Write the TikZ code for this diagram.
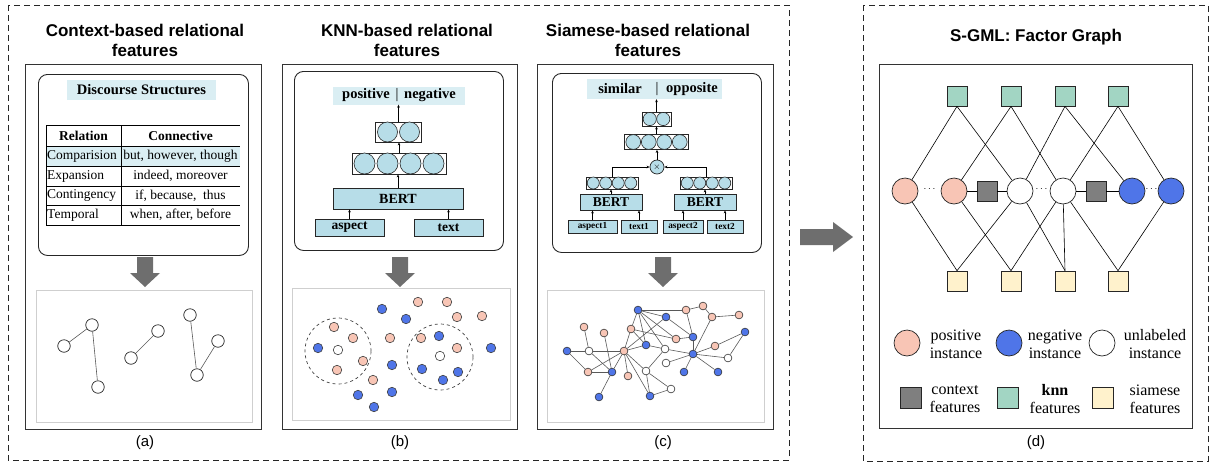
\documentclass[tikz,border=0pt]{standalone}
\usepackage{fontspec}
\setmainfont{Liberation Serif}
\newfontfamily\arialf{Liberation Sans}
\usetikzlibrary{arrows.meta}
\definecolor{pinkc}{HTML}{F8C5B5}
\definecolor{bluec}{HTML}{4F75E8}
\definecolor{tealc}{HTML}{A2D5C3}
\definecolor{creamc}{HTML}{FFF2CC}
\definecolor{darkc}{HTML}{7F7F7F}
\definecolor{lblue}{HTML}{B7DDE8}
\definecolor{hlblue}{HTML}{DAEEF3}
\definecolor{arrowgray}{HTML}{6E6E6E}
\definecolor{framegray}{HTML}{CFCFCF}
\newcommand{\nnlayer}[7]{%
  \node[layerbox, minimum width={#3*#4+2}, minimum height=#6] (#7) at (#1,#2) {};
  \foreach \k in {1,...,#3}{\draw[neuron] ({#1+(\k-(#3+1)/2)*#4},#2) circle[radius=#5];}
}
\begin{document}
\begin{tikzpicture}[x=1pt,y=-1pt,
  title/.style={font=\arialf\bfseries\fontsize{17}{20}\selectfont, align=center},
  capt/.style={font=\arialf\fontsize{15}{17}\selectfont},
  outerdash/.style={draw=black!85, line width=0.8pt, dash pattern=on 6pt off 4pt},
  panelbox/.style={draw=black!80, line width=0.9pt, anchor=north west, inner sep=0},
  rbox/.style={draw=black!85, line width=0.9pt, rounded corners=9pt, anchor=north west, inner sep=0},
  graybox/.style={draw=framegray, line width=1pt, anchor=north west, inner sep=0},
  hl/.style={fill=hlblue, inner sep=0},
  layerbox/.style={draw=black!85, line width=0.8pt, fill=white, inner sep=0},
  neuron/.style={draw=black!85, line width=0.6pt, fill=lblue},
  nnbox/.style={draw=black!85, line width=0.8pt, fill=lblue, inner sep=0},
  nnarrow/.style={-{Stealth[length=3pt,width=2.6pt]}, line width=0.5pt, black},
  tcell/.style={font=\fontsize{13.5}{16}\selectfont, inner sep=0},
  gnode/.style={circle, draw=black!85, line width=0.7pt, fill=white, minimum size=12.5pt, inner sep=0},
  kdot/.style={circle, draw=black!75, line width=0.6pt, minimum size=9.5pt, inner sep=0},
  sdot/.style={circle, draw=black!80, line width=0.6pt, minimum size=7.8pt, inner sep=0},
  pk/.style={fill=pinkc}, bl/.style={fill=bluec}, wh/.style={fill=white},
  sedge/.style={draw=black!65, line width=0.6pt},
  fcirc/.style={circle, draw=black!85, line width=0.7pt, minimum size=26pt, inner sep=0},
  fsq/.style={draw=black!85, line width=0.7pt, minimum size=20pt, inner sep=0},
  fedge/.style={draw=black, line width=0.6pt},
  legtext/.style={font=\fontsize{16}{18}\selectfont, align=center, inner sep=0},
  garrow/.pic={\fill[arrowgray] (-8,0) -- (8,0) -- (8,16) -- (15,16) -- (0,30) -- (-15,16) -- (-8,16) -- cycle;}
]
\useasboundingbox (0,0) rectangle (1211,464);

% ---------------- outer dashed frames
\draw[outerdash] (8,5) rectangle (789,460);
\draw[outerdash] (863,5) rectangle (1208,461);

% ================= panel (a)
\node[title] (ta) at (145,40) {Context-based relational\\features};
\node[panelbox, minimum width=236, minimum height=365] (pa) at (25,64) {};
\node[rbox, minimum width=210, minimum height=181] (ra) at (38,74) {};
\node[hl, minimum width=149, minimum height=20, font=\bfseries\fontsize{14.5}{16}\selectfont] (ds) at (141.5,90) {Discourse Structures};
\fill[hlblue] (46,146) rectangle (240,166);
\foreach \yy in {125,146,166,186,205,225}{\draw[line width=0.8pt] (46,\yy) -- (240,\yy);}
\draw[line width=0.8pt] (46,125) -- (46,225);
\draw[line width=0.8pt] (121,125) -- (121,225);
\node[tcell, font=\bfseries\fontsize{13.5}{16}\selectfont] (h1) at (83.5,136) {Relation};
\node[tcell, font=\bfseries\fontsize{13.5}{16}\selectfont] (h2) at (180.5,136) {Connective};
\node[tcell, anchor=west] (r1a) at (47,156) {Comparision};
\node[tcell] (r1b) at (180.5,156) {but, however, though};
\node[tcell, anchor=west] (r2a) at (47,176) {Expansion};
\node[tcell] (r2b) at (180.5,176) {indeed, moreover};
\node[tcell, anchor=west] (r3a) at (47,195.5) {Contingency};
\node[tcell] (r3b) at (180.5,195.5) {if, because,\ \ thus};
\node[tcell, anchor=west] (r4a) at (47,215) {Temporal};
\node[tcell] (r4b) at (180.5,215) {when, after, before};
\pic at (145,257) {garrow};
\node[graybox, minimum width=216, minimum height=132] (ga) at (36,290) {};
\node[gnode] (a1) at (64,346) {};
\node[gnode] (a2) at (92,325) {};
\node[gnode] (a3) at (98,387) {};
\node[gnode] (a4) at (131,358) {};
\node[gnode] (a5) at (158,331) {};
\node[gnode] (a6) at (190,315) {};
\node[gnode] (a7) at (218,341) {};
\node[gnode] (a8) at (197,375) {};
\draw[sedge] (a1) -- (a2); \draw[sedge] (a2) -- (a3);
\draw[sedge] (a4) -- (a5);
\draw[sedge] (a6) -- (a8); \draw[sedge] (a8) -- (a7);
\node[capt] (ca) at (145,443) {(a)};

% ================= panel (b)
\node[title] (tb) at (407,40) {KNN-based relational\\features};
\node[panelbox, minimum width=235, minimum height=365] (pb) at (282,64) {};
\node[rbox, minimum width=209, minimum height=179] (rb) at (294,71) {};
\node[hl, minimum width=132, minimum height=18] (hb) at (399,95.5) {};
\node[font=\bfseries\fontsize{14.5}{16}\selectfont, inner sep=0] (hbp) at (366,95.5) {positive};
\node[font=\fontsize{14.5}{16}\selectfont, inner sep=0] (hbb) at (397,95.5) {|};
\node[font=\bfseries\fontsize{14.5}{16}\selectfont, inner sep=0] (hbn) at (430,95.5) {negative};
\nnlayer{398.5}{132}{2}{22}{10}{20}{lb2}
\nnlayer{399}{163.5}{4}{23}{10.5}{21}{lb4}
\node[nnbox, minimum width=130, minimum height=21, font=\bfseries\fontsize{14}{16}\selectfont] (bertb) at (398,198.5) {BERT};
\node[nnbox, minimum width=69, minimum height=17, font=\bfseries\fontsize{13.5}{15}\selectfont] (aspb) at (349.5,227.5) {aspect};
\node[nnbox, minimum width=69, minimum height=17, font=\bfseries\fontsize{13.5}{15}\selectfont] (txtb) at (448.5,227.5) {text};
\draw[nnarrow] (aspb.north) -- (aspb.north |- bertb.south);
\draw[nnarrow] (txtb.north) -- (txtb.north |- bertb.south);
\draw[nnarrow] (bertb.north) -- (bertb.north |- lb4.south);
\draw[nnarrow] (lb4.north) -- (lb4.north |- lb2.south);
\draw[nnarrow] (lb2.north) -- (lb2.north |- hb.south);
\pic at (400,257) {garrow};
\node[graybox, minimum width=218, minimum height=132] (gb) at (292,288) {};
\node[circle, draw=black!75, dashed, line width=0.7pt, minimum size=66pt, inner sep=0] (dc1) at (338,351) {};
\node[circle, draw=black!75, dashed, line width=0.7pt, minimum size=66pt, inner sep=0] (dc2) at (440,357) {};
\foreach \px/\py/\st [count=\i] in {382/309/bl, 418/302/pk, 447/302/pk, 406/319/bl, 457/317/pk, 482/316/pk,
  334/327/pk, 353/338/pk, 390/338/pk, 421/338/pk, 439/336/bl, 318/348/bl, 338/350/wh, 457/348/pk, 491/348/bl,
  440/356/wh, 363/361/pk, 392/365/bl, 422/369/bl, 337/370/pk, 458/372/bl, 443/380/bl, 373/380/pk, 358/395/bl,
  392/392/bl, 374/407/bl}
  {\node[kdot, \st] (kd\i) at (\px,\py) {};}
\node[capt] (cb) at (400,443) {(b)};

% ================= panel (c)
\node[title] (tc) at (648,40) {Siamese-based relational\\features};
\node[panelbox, minimum width=236, minimum height=365] (pc) at (537,64) {};
\node[rbox, minimum width=209, minimum height=179] (rc) at (552,73) {};
\node[hl, minimum width=135, minimum height=20] (hc) at (654.5,89) {};
\node[font=\bfseries\fontsize{14.5}{16}\selectfont, inner sep=0] (hcs) at (620,89) {similar};
\node[font=\fontsize{14.5}{16}\selectfont, inner sep=0] (hcb) at (657,89) {|};
\node[font=\bfseries\fontsize{14.5}{16}\selectfont, inner sep=0] (hco) at (692,89) {opposite};
\nnlayer{656.5}{119}{2}{13.5}{6.6}{14}{lc2}
\nnlayer{656.5}{142}{4}{15.5}{7.4}{15}{lc4}
\node[circle, draw=black!85, line width=0.7pt, fill=lblue, minimum size=14pt, inner sep=0, font=\fontsize{9}{9}\selectfont] (ox) at (657,167) {$\times$};
\nnlayer{612}{183}{4}{12.5}{6}{12}{encl}
\nnlayer{706}{183}{4}{12.5}{6}{12}{encr}
\node[nnbox, minimum width=62, minimum height=16, font=\bfseries\fontsize{13.5}{15}\selectfont] (bertl) at (611,202) {BERT};
\node[nnbox, minimum width=62, minimum height=16, font=\bfseries\fontsize{13.5}{15}\selectfont] (bertr) at (705,202) {BERT};
\node[nnbox, minimum width=49, minimum height=13, font=\bfseries\fontsize{9.3}{10}\selectfont] (asp1) at (592.5,226.5) {aspect1};
\node[nnbox, minimum width=36, minimum height=13, font=\bfseries\fontsize{9.3}{10}\selectfont] (txt1) at (639,226.5) {text1};
\node[nnbox, minimum width=40, minimum height=13, font=\bfseries\fontsize{9.3}{10}\selectfont] (asp2) at (683,226.5) {aspect2};
\node[nnbox, minimum width=36, minimum height=13, font=\bfseries\fontsize{9.3}{10}\selectfont] (txt2) at (725,226.5) {text2};
\draw[nnarrow] (asp1.north) -- (asp1.north |- bertl.south);
\draw[nnarrow] (txt1.north) -- (txt1.north |- bertl.south);
\draw[nnarrow] (asp2.north) -- (asp2.north |- bertr.south);
\draw[nnarrow] (txt2.north) -- (txt2.north |- bertr.south);
\draw[nnarrow] (bertl.north) -- (bertl.north |- encl.south);
\draw[nnarrow] (bertr.north) -- (bertr.north |- encr.south);
\draw[nnarrow] (encl.north) |- (ox.west);
\draw[nnarrow] (encr.north) |- (ox.east);
\draw[nnarrow] (ox.north) -- (ox.north |- lc4.south);
\draw[nnarrow] (lc4.north) -- (lc4.north |- lc2.south);
\draw[nnarrow] (lc2.north) -- (lc2.north |- hc.south);
\pic at (663,257) {garrow};
\node[graybox, minimum width=217, minimum height=132] (gc) at (547,290) {};
\foreach \nm/\px/\py/\st in {B1/638/310/bl, B2/666/317/bl, P1/686/310/pk, P2/703/306/pk, P3/712/317/pk, P4/739/315/pk,
  P5/584/327/pk, P6/604/333/pk, P7/631/329/pk, P8/676/339/pk, B3/693/337/bl, B4/745/332/bl, B5/567/351/bl,
  W1/589/351/wh, P9/624/351/pk, B6/646/345/bl, W2/665/349/wh, P10/715/346/pk, B7/693/354/bl, W3/666/363/wh,
  W4/728/358/wh, P11/588/372/pk, B8/612/372/bl, P12/628/376/pk, W5/646/371/wh, B9/684/372/bl, B10/718/372/bl,
  W6/671/389/wh, B11/599/397/bl, B12/650/396/bl}
  {\node[sdot, \st] (c\nm) at (\px,\py) {};}
\foreach \u/\v in {B5/W1, W1/P9, B5/P11, P5/W1, W1/B8, P11/B8, P11/P9, P6/B8, B8/P9, B8/B11, P9/P7, P9/B2,
  P9/B6, P9/W5, P9/B12, P9/P12, P7/B6, P7/P8, B1/P7, B1/B6, B1/W2, B1/P8, B1/B2, B1/P1, P1/P2, P2/P3, P3/P4,
  P1/B3, P3/B7, B2/B3, B6/W2, W2/B7, B3/B7, B7/P10, P10/B4, B4/W4, W4/B7, B7/B9, B7/B10, B7/W3, W2/W5,
  W5/B12, W5/W6, W6/B12, P8/B3}
  {\draw[sedge] (c\u) -- (c\v);}
\node[capt] (cc) at (663,443) {(c)};

% ---------------- big arrow to (d)
\fill[arrowgray] (800,229) -- (833,229) -- (833,222) -- (853,237) -- (833,252) -- (833,245) -- (800,245) -- cycle;

% ================= panel (d)
\node[title] (td) at (1036,37) {S-GML: Factor Graph};
\node[panelbox, minimum width=313, minimum height=364] (pd) at (879,64) {};
\foreach \nm/\px in {1/957, 2/1011, 3/1065, 4/1118}{
  \node[fsq, fill=tealc] (K\nm) at (\px,96) {};
  \node[fsq, fill=creamc] (S\nm) at (\px,281) {};
}
\node[fcirc, fill=pinkc] (FP1) at (905,191) {};
\node[fcirc, fill=pinkc] (FP2) at (954,191) {};
\node[fcirc, fill=white] (FW1) at (1020,191) {};
\node[fcirc, fill=white] (FW2) at (1063,191) {};
\node[fcirc, fill=bluec] (FN1) at (1132,191) {};
\node[fcirc, fill=bluec] (FN2) at (1171,191) {};
\node[fsq, fill=darkc] (C1) at (987,191) {};
\node[fsq, fill=darkc] (C2) at (1096,191) {};
\node[inner sep=0] (d1) at (929.5,189) {$\cdots$};
\node[inner sep=0] (d2) at (1041.5,189) {$\cdots$};
\node[inner sep=0] (d3) at (1151.5,189) {$\cdots$};
\foreach \u/\v in {K1/FP1, K1/FW1, K2/FP2, K2/FW2, K3/FW1, K3/FN1, K4/FW2, K4/FN2}
  {\draw[fedge] (\u.south) -- (\v);}
\foreach \u/\v in {S1/FP1, S1/FW1, S2/FP2, S2/FW2, S3/FW1, S3/FW2, S4/FW2, S4/FN2}
  {\draw[fedge] (\u.north) -- (\v);}
\draw[fedge] (FP2) -- (C1); \draw[fedge] (C1) -- (FW1);
\draw[fedge] (FW2) -- (C2); \draw[fedge] (C2) -- (FN1);
% legend
\node[fcirc, fill=pinkc] (L1) at (907,343) {};
\node[legtext] (L1t) at (956,344) {positive\\instance};
\node[fcirc, fill=bluec] (L2) at (1009,343) {};
\node[legtext] (L2t) at (1055,344) {negative\\instance};
\node[fcirc, fill=white] (L3) at (1102,343) {};
\node[legtext] (L3t) at (1155,344) {unlabeled\\instance};
\node[fsq, fill=darkc, minimum size=21pt] (L4) at (911,398) {};
\node[legtext] (L4t) at (955,399) {context\\features};
\node[fsq, fill=tealc, minimum size=21pt] (L5) at (1008,398) {};
\node[legtext] (L5t) at (1055,399) {\textbf{knn}\\features};
\node[fsq, fill=creamc, minimum size=21pt] (L6) at (1103,398) {};
\node[legtext] (L6t) at (1155,399) {siamese\\features};
\node[capt] (cd) at (1036,443) {(d)};
\end{tikzpicture}
\end{document}
